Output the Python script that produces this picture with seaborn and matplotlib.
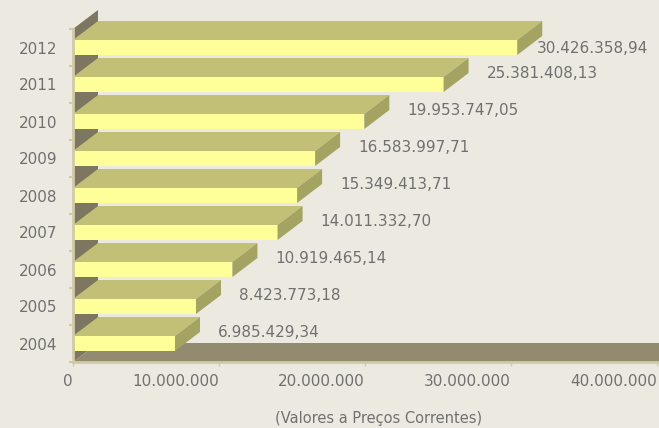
import numpy as np
import pandas as pd
import matplotlib
matplotlib.use("Agg")
import matplotlib.pyplot as plt
from matplotlib.patches import Polygon
from matplotlib.ticker import FuncFormatter, FixedLocator
import seaborn as sns

# Data (values at current prices)
years = ["2012", "2011", "2010", "2009", "2008", "2007", "2006", "2005", "2004"]
values = [30426358.94, 25381408.13, 19953747.05, 16583997.71, 15349413.71,
          14011332.70, 10919465.14, 8423773.18, 6985429.34]
x_ticks = [0, 10000000, 20000000, 30000000, 40000000]

df = pd.DataFrame({"Ano": years, "Valor": values})

# Colours
bg = "#ECEAE0"
front_col = "#FFFF99"
top_col = "#C2C076"
side_col = "#A5A362"
wall_col = "#7D7660"
floor_col = "#938B6F"
axis_col = "#D2CAA6"
text_col = "#707070"

sns.set_theme(style="white")
plt.rcParams["font.family"] = ["DejaVu Sans"]

fig = plt.figure(figsize=(6.59, 4.28), dpi=100, facecolor=bg)
W, H = 659, 428
ax = fig.add_axes([73 / W, (H - 362) / H, 584 / W, 333 / H])
ax.set_facecolor("none")

bar_h = 15 / 37
sns.barplot(data=df, x="Valor", y="Ano", order=years, color=front_col,
            saturation=1, width=bar_h, linewidth=0, orient="h", ax=ax, zorder=3)

ax.set_xlim(0, 40000000)
ax.set_ylim(len(years) - 0.5, -0.5)

# depth of the 3D effect (pixels -> data units)
px_x = 40000000 / 584
dx = 25 * px_x
dy = 19 / 37

# left wall and floor
n = len(years)
ax.add_patch(Polygon([(0, n - 0.5), (0, -0.5), (dx, -0.5 - dy), (dx, n - 0.5 - dy)],
                     closed=True, fc=wall_col, ec="none", zorder=1, clip_on=False))
ax.add_patch(Polygon([(0, n - 0.5), (45000000, n - 0.5), (45000000 + dx, n - 0.5 - dy),
                      (dx, n - 0.5 - dy)],
                     closed=True, fc=floor_col, ec="none", zorder=2, clip_on=False))

# top and right faces of each bar
for p, v in zip(ax.patches[:n], values):
    y0 = p.get_y()
    y1 = y0 + p.get_height()
    w = p.get_width()
    top = [(0, y0), (w, y0), (w + dx, y0 - dy), (dx, y0 - dy)]
    side = [(w, y0), (w + dx, y0 - dy), (w + dx, y1 - dy), (w, y1)]
    ax.add_patch(Polygon(top, closed=True, fc=top_col, ec="none", zorder=3, clip_on=False))
    ax.add_patch(Polygon(side, closed=True, fc=side_col, ec="none", zorder=3, clip_on=False))

# value labels
def fmt_val(v):
    return f"{v:,.2f}".replace(",", "X").replace(".", ",").replace("X", ".")

fig.canvas.draw()
renderer = fig.canvas.get_renderer()
for i, v in enumerate(values):
    t = ax.text(v + dx + 18 * px_x, i - 0.3, fmt_val(v), ha="left", va="center",
                fontsize=11, color=text_col, zorder=5, clip_on=False)
    bb = t.get_window_extent(renderer)
    if bb.x1 > W - 4:
        t.set_position((v + 20 * px_x, i + 0.03))
        t.set_ha("left")
        bb = t.get_window_extent(renderer)
        if bb.x1 > W - 4:
            t.set_ha("right")
            t.set_position((40000000 - 2 * px_x, i + 0.03))

# axes styling
for s in ["top", "right"]:
    ax.spines[s].set_visible(False)
ax.spines["left"].set_color(axis_col)
ax.spines["left"].set_linewidth(2)
ax.spines["bottom"].set_color(axis_col)
ax.spines["bottom"].set_linewidth(2)
ax.spines["left"].set_zorder(6)
ax.spines["bottom"].set_zorder(6)

ax.xaxis.set_major_locator(FixedLocator(x_ticks))
ax.xaxis.set_major_formatter(FuncFormatter(lambda v, pos: f"{int(v):,}".replace(",", ".")))
ax.tick_params(axis="x", length=3, width=1, color=axis_col, labelcolor=text_col,
               labelsize=11, pad=6, bottom=True)
plt.setp(ax.get_xticklabels(), ha="right")

ax.yaxis.set_minor_locator(FixedLocator(np.arange(-0.5, n, 1.0)))
ax.tick_params(axis="y", which="major", length=0, labelcolor=text_col, labelsize=11, pad=11)
ax.tick_params(axis="y", which="minor", length=3, width=1.5, color=axis_col, left=True)

ax.set_xlabel("")
ax.set_ylabel("")
fig.text(379 / W, 1 - 418 / H, "(Valores a Preços Correntes)", ha="center", va="center",
         fontsize=10.5, color=text_col)

fig.savefig("out.png", dpi=100, facecolor=bg)
